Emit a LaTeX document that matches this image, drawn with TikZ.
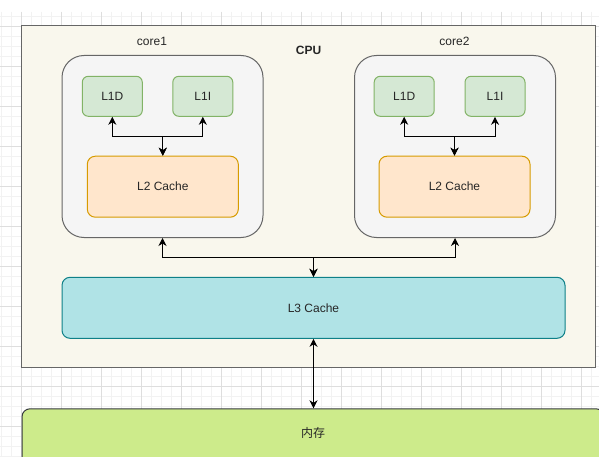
\documentclass[tikz,border=0pt]{standalone}
\usepackage{fontspec}
\setmainfont{Liberation Sans}
\newfontfamily\cjkfont{Noto Sans CJK SC}
\usetikzlibrary{arrows.meta,positioning}
\definecolor{gridlo}{RGB}{242,242,242}
\definecolor{gridhi}{RGB}{222,222,222}
\definecolor{edge}{HTML}{666666}
\definecolor{cpufill}{HTML}{F9F7ED}
\definecolor{corefill}{HTML}{F5F5F5}
\definecolor{lonefill}{HTML}{D5E8D4}
\definecolor{loneedge}{HTML}{82B366}
\definecolor{ltwofill}{HTML}{FFE6CC}
\definecolor{ltwoedge}{HTML}{D79B00}
\definecolor{lthreefill}{HTML}{B0E3E6}
\definecolor{lthreeedge}{HTML}{0E8088}
\definecolor{memfill}{HTML}{CDEB8B}
\definecolor{memedge}{HTML}{36393D}
\tikzset{
  lab/.style={font=\fontsize{12}{14}\selectfont,text=black!85},
  box/.style={lab,draw,line width=1pt,inner sep=0pt},
  cpubox/.style={box,draw=edge,line width=1.4pt,fill=cpufill,minimum width=574pt,minimum height=342pt},
  corebox/.style={box,draw=edge,fill=corefill,rounded corners=22pt,minimum width=201pt,minimum height=182pt},
  lone/.style={box,draw=loneedge,fill=lonefill,rounded corners=6pt,minimum width=60pt,minimum height=40pt},
  ltwo/.style={box,draw=ltwoedge,fill=ltwofill,rounded corners=8pt,minimum width=151pt,minimum height=61pt},
  lthree/.style={box,draw=lthreeedge,fill=lthreefill,rounded corners=8pt,minimum width=503pt,minimum height=61pt},
  membox/.style={box,draw=memedge,fill=memfill,rounded corners=8pt,minimum width=582pt,minimum height=70pt},
  biarr/.style={{Stealth[length=8pt,width=8pt,inset=2.5pt]}-{Stealth[length=8pt,width=8pt,inset=2.5pt]},line width=1pt,draw=black}
}
\begin{document}
\begin{tikzpicture}[x=1pt,y=-1pt]
  \useasboundingbox (0,0) rectangle (599,457);
  \clip (0,0) rectangle (599,457);
  \fill[white] (0,0) rectangle (599,457);
  % background grid
  \foreach \gx in {1.7,11.7,...,599}{\draw[gridlo,line width=.8pt] (\gx,12) -- (\gx,457);}
  \foreach \gy in {16.7,26.7,...,457}{\draw[gridlo,line width=.8pt] (0,\gy) -- (599,\gy);}
  \foreach \gx in {21.7,61.7,...,599}{\draw[gridhi,line width=.8pt] (\gx,12) -- (\gx,457);}
  \foreach \gy in {26.7,66.7,...,457}{\draw[gridhi,line width=.8pt] (0,\gy) -- (599,\gy);}

  \node[cpubox] (cpu) at (308.7,196.5) {};
  \node[lab,font=\fontsize{12}{14}\selectfont\bfseries] (cpulab) at (308.5,50.5) {CPU};

  \node[corebox] (corea) at (162.5,146.5) {};
  \node[lab] (corealab) at (152,41.5) {core1};
  \node[lone] (l1da) at (112.3,96.3) {L1D};
  \node[lone] (l1ia) at (202.8,96.3) {L1I};
  \node[ltwo] (l2a) at (162.8,186.7) {L2 Cache};
  \draw[biarr] (l1da.south) -- ++(0,19.5) -| (l2a.north);
  \draw[biarr] (l1ia.south) -- ++(0,19.5) -| (l2a.north);

  \node[corebox] (coreb) at (455,146.5) {};
  \node[lab] (coreblab) at (454.5,41.5) {core2};
  \node[lone] (l1db) at (404.2,96.3) {L1D};
  \node[lone] (l1ib) at (495,96.3) {L1I};
  \node[ltwo] (l2b) at (454.5,186.7) {L2 Cache};
  \draw[biarr] (l1db.south) -- ++(0,19.5) -| (l2b.north);
  \draw[biarr] (l1ib.south) -- ++(0,19.5) -| (l2b.north);

  \node[lthree] (l3) at (313.5,307.8) {L3 Cache};
  \draw[biarr] (corea.south) -- ++(0,19.5) -| (l3.north);
  \draw[biarr] (coreb.south) -- ++(0,19.5) -| (l3.north);

  \node[membox,anchor=north] (mem) at (313,408.3) {};
  \node[lab] (memlab) at (313,433) {\cjkfont 内存};
  \draw[biarr] (l3.south) -- (l3.south |- mem.north);
\end{tikzpicture}
\end{document}
